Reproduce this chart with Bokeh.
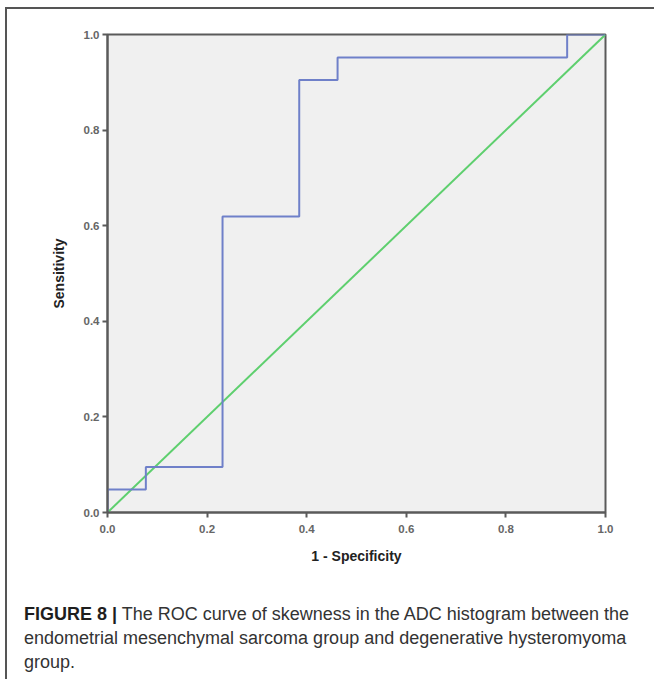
from bokeh.plotting import figure
from bokeh.models import Range1d, FixedTicker, NumeralTickFormatter, Div
from bokeh.layouts import column
from bokeh.embed import file_html
from bokeh.resources import INLINE

# ROC curve (1 - specificity, sensitivity) step points
fpr = [0.0, 0.0, 0.077, 0.077, 0.231, 0.231, 0.385, 0.385, 0.462, 0.462, 0.923, 0.923, 1.0]
tpr = [0.0, 0.048, 0.048, 0.095, 0.095, 0.619, 0.619, 0.905, 0.905, 0.952, 0.952, 1.0, 1.0]
ref_x = [0.0, 1.0]
ref_y = [0.0, 1.0]
ticks = [0.0, 0.2, 0.4, 0.6, 0.8, 1.0]
x_label = "1 - Specificity"
y_label = "Sensitivity"
caption_bold = "FIGURE 8 |"
caption_lines = [
    "The ROC curve of skewness in the ADC histogram between the",
    "endometrial mesenchymal sarcoma group and degenerative hysteromyoma",
    "group.",
]

W = 647
H1 = 576
H2 = 90
p = figure(width=W, height=H1, output_backend="svg", toolbar_location=None,
           x_range=Range1d(0, 1), y_range=Range1d(0, 1),
           min_border_left=100, min_border_right=49, min_border_top=25, min_border_bottom=73)
p.background_fill_color = "#f0f0f0"
p.border_fill_color = "white"
p.outline_line_color = "#5a5a5a"
p.outline_line_width = 2
p.grid.visible = False

for ax in (p.xaxis[0], p.yaxis[0]):
    ax.ticker = FixedTicker(ticks=ticks)
    ax.formatter = NumeralTickFormatter(format="0.0")
    ax.minor_tick_line_color = None
    ax.major_tick_in = 0
    ax.major_tick_out = 5
    ax.major_tick_line_color = "#5a5a5a"
    ax.major_tick_line_width = 2
    ax.axis_line_color = "#5a5a5a"
    ax.axis_line_width = 2
    ax.major_label_text_font = "Liberation Sans"
    ax.major_label_text_font_size = "11.5px"
    ax.major_label_text_color = "#666666"
    ax.major_label_text_font_style = "bold"
    ax.axis_label_text_font = "Liberation Sans"
    ax.axis_label_text_font_size = "14px"
    ax.axis_label_text_font_style = "bold"
    ax.axis_label_text_color = "#222222"

p.xaxis[0].axis_label = x_label
p.yaxis[0].axis_label = y_label
p.xaxis[0].major_label_standoff = 7
p.yaxis[0].major_label_standoff = 3
p.xaxis[0].axis_label_standoff = 12
p.yaxis[0].axis_label_standoff = 14

p.line(ref_x, ref_y, line_color="#5ecf6e", line_width=2)
p.line(fpr, tpr, line_color="#6f80c9", line_width=2)

cap_html = ("<b style='color:#1e1e1e'>" + caption_bold + "</b> " + caption_lines[0] + "<br>"
            + "<br>".join(caption_lines[1:]))
cap = Div(text=cap_html, width=W, height=H2,
          styles={"font-family": "'Liberation Sans', Arial, sans-serif", "font-size": "18px",
                  "line-height": "24px", "color": "#333333", "white-space": "nowrap",
                  "padding-left": "12px", "padding-top": "12px", "box-sizing": "border-box"})

layout = column(p, cap, spacing=0,
                styles={"border-top": "2px solid #555", "border-left": "2px solid #555",
                        "margin-left": "5px", "margin-top": "7px"})

open("out.html", "w").write(file_html(layout, INLINE))
